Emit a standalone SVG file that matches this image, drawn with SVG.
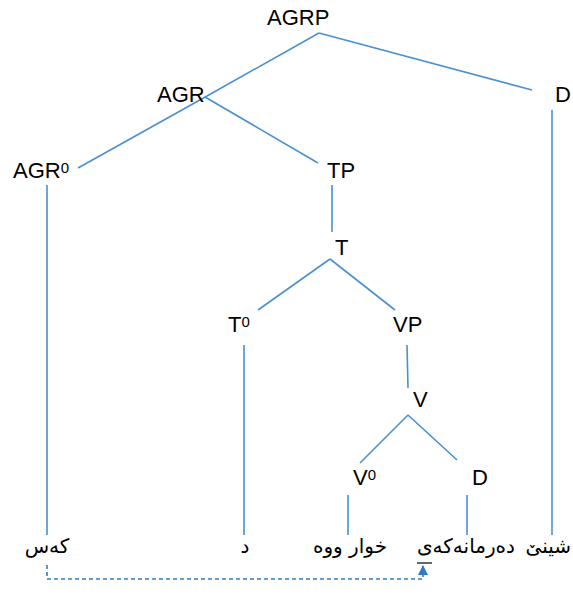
<svg xmlns="http://www.w3.org/2000/svg" width="573" height="603" viewBox="0 0 573 603">
<defs>
<style>
.lbl{font-family:"Liberation Sans",Arial,sans-serif;font-size:22px;fill:#000}
.sup{font-size:15px}
.ar{font-family:"DejaVu Sans","Noto Sans",sans-serif;font-size:20px;fill:#000}
.e{stroke:#4A90D0;stroke-width:1.6;fill:none}
.d{stroke:#2E7CC4;stroke-width:1.6;fill:none;stroke-dasharray:4 3}
</style>
<marker id="ah" viewBox="0 0 10 10" refX="9" refY="5" markerWidth="10" markerHeight="10" orient="auto" markerUnits="userSpaceOnUse">
<path d="M0,0 L10,5 L0,10 z" fill="#2E7CC4"/>
</marker>
</defs>
<rect width="573" height="603" fill="#fff"/>
<g id="connectors">
<line class="e" x1="319" y1="33" x2="207" y2="96"/>
<line class="e" x1="207" y1="96" x2="78" y2="168"/>
<line class="e" x1="205" y1="97" x2="318" y2="163"/>
<line class="e" x1="319" y1="33" x2="532" y2="90"/>
<line class="e" x1="552" y1="110" x2="552" y2="535"/>
<line class="e" x1="47" y1="185" x2="47" y2="535"/>
<line class="e" x1="332" y1="185" x2="332" y2="232"/>
<line class="e" x1="330" y1="259" x2="258" y2="310"/>
<line class="e" x1="330" y1="259" x2="395" y2="310"/>
<line class="e" x1="244" y1="345" x2="244" y2="535"/>
<line class="e" x1="407" y1="345" x2="408" y2="388"/>
<line class="e" x1="408" y1="415" x2="360" y2="463"/>
<line class="e" x1="408" y1="415" x2="457" y2="460"/>
<line class="e" x1="348" y1="495" x2="348" y2="535"/>
<line class="e" x1="467" y1="495" x2="467" y2="535"/>
<path class="d" d="M47,565 V579 H423 V566" marker-end="url(#ah)"/>
</g>
<g id="AGRP"><text class="lbl" x="267" y="25">AGRP</text></g>
<g id="AGR"><text class="lbl" x="157" y="102">AGR</text></g>
<g id="D1"><text class="lbl" x="555" y="102">D</text></g>
<g id="AGR0"><text class="lbl" x="13" y="178">AGR<tspan class="sup" dy="-5">0</tspan></text></g>
<g id="TP"><text class="lbl" x="327" y="178">TP</text></g>
<g id="T"><text class="lbl" x="335" y="255">T</text></g>
<g id="T0"><text class="lbl" x="228" y="332">T<tspan class="sup" dy="-5">0</tspan></text></g>
<g id="VP"><text class="lbl" x="393" y="332">VP</text></g>
<g id="V"><text class="lbl" x="413" y="407">V</text></g>
<g id="V0"><text class="lbl" x="353" y="485">V<tspan class="sup" dy="-5">0</tspan></text></g>
<g id="D2"><text class="lbl" x="472" y="485">D</text></g>
<g id="w-kas"><text class="ar" x="47" y="553" text-anchor="middle" direction="rtl">کەس</text></g>
<g id="w-d"><text class="ar" x="245" y="553" text-anchor="middle" direction="rtl">د</text></g>
<g id="w-xwar"><text class="ar" x="350" y="553" text-anchor="middle" direction="rtl">خوار ووه</text></g>
<g id="w-darman"><text class="ar" x="466" y="553" text-anchor="middle" direction="rtl">دەرمانەکەی</text><line x1="417" y1="563" x2="432" y2="563" stroke="#000" stroke-width="1.2"/></g>
<g id="w-shini"><text class="ar" x="571" y="553" text-anchor="end" direction="ltr">شینێ</text></g>
</svg>
